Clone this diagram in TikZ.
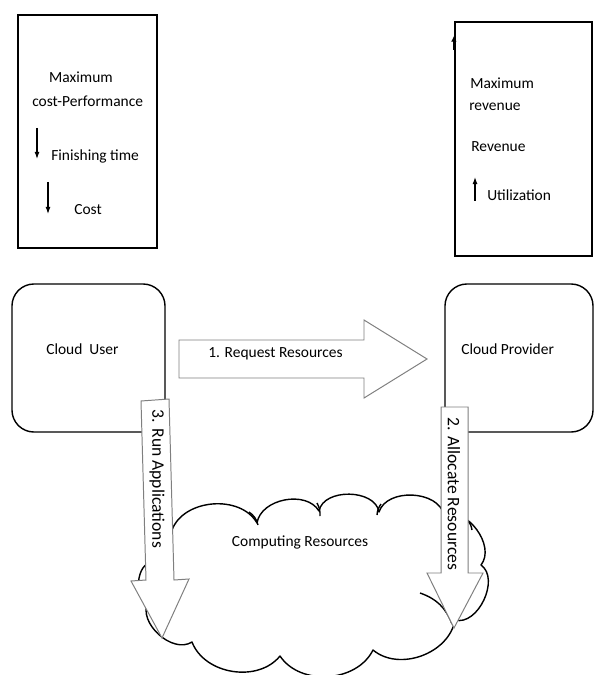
\documentclass[tikz,border=0pt]{standalone}
\usepackage{fontspec}
\setmainfont{Carlito}
\usepackage{xcolor}
\usepackage{tikz}
\usetikzlibrary{arrows.meta}
\definecolor{EdgeGray}{HTML}{7f7f7f}
\tikzset{
  goalbox/.style={draw, line width=1.6pt, inner sep=0pt},
  partybox/.style={draw, line width=1pt, rounded corners=0.55cm, inner sep=0pt},
  lbl/.style={inner sep=0pt, font=\fontsize{11}{13}\selectfont},
  vlbl/.style={inner sep=0pt, rotate=-90, font=\fontsize{12.5}{15}\selectfont},
  trend/.style={line width=0.8pt, -{Latex[length=5pt,width=3.5pt]}},
  blockarrow/.style={draw=EdgeGray, fill=white, line width=0.7pt},
  cloudline/.style={line width=1pt, line join=round}
}

\begin{document}
\begin{tikzpicture}[x=0.025cm, y=-0.025cm]%
\useasboundingbox (0,0) rectangle (595,675);%
% goal boxes
\node[goalbox, minimum width=3.475cm, minimum height=5.825cm] (usergoal) at (87.5,131.5) {};%
\node[goalbox, minimum width=3.425cm, minimum height=5.85cm] (provgoal) at (523.5,139) {};%
\draw[line width=1.2pt, -{Latex[length=4pt,width=4pt]}] (provgoal.south west |- 0,50) -- (provgoal.south west |- 0,36);%
\node[lbl] (umax) at (81,77) {Maximum};%
\node[lbl, anchor=west] (ucp) at (32,101) {cost-Performance};%
\node[lbl, anchor=west] (ufin) at (51,156) {Finishing time};%
\node[lbl, anchor=west] (ucost) at (74,210) {Cost};%
\coordinate (f1) at (37,128); \coordinate (f2) at (37,159);%
\coordinate (c1) at (48,182); \coordinate (c2) at (48,214);%
\draw[trend] (f1) -- (f2);%
\draw[trend] (c1) -- (c2);%
\node[lbl, anchor=west] (pmax) at (470,83) {Maximum};%
\node[lbl, anchor=west] (prev) at (469,107) {revenue};%
\node[lbl, anchor=west] (prevenue) at (471,147) {Revenue};%
\node[lbl, anchor=west] (putil) at (487,195) {Utilization};%
\coordinate (u1) at (475,201); \coordinate (u2) at (475,177);%
\draw[trend] (u1) -- (u2);%
% parties
\node[partybox, minimum width=3.825cm, minimum height=3.7cm] (user) at (88.5,358) {};%
\node[partybox, minimum width=3.7cm, minimum height=3.7cm] (provider) at (519,358) {};%
\node[lbl, anchor=west] (userlbl) at (46,349) {Cloud\ \ User};%
\node[lbl, anchor=west] (provlbl) at (461,349) {Cloud Provider};%
% computing resources cloud
\coordinate (A) at (172,530); \coordinate (B) at (257,523); \coordinate (C) at (319,511);%
\coordinate (D) at (379,512); \coordinate (E) at (444,515); \coordinate (F) at (481,565);%
\coordinate (G) at (455,620); \coordinate (H) at (373,650); \coordinate (I) at (280,656);%
\coordinate (J) at (192,642); \coordinate (K) at (148,602); \coordinate (L) at (152,563);%
\draw[cloudline] (A) to[bend left=65] (B) to[bend left=70] (C) to[bend left=80] (D)
  to[bend left=75] (E) to[bend left=75] (F) to[bend left=80] (G) to[bend left=60] (H)
  to[bend left=60] (I) to[bend left=60] (J) to[bend left=75] (K) to[bend left=90] (L)
  to[bend left=70] (A);%
\draw[cloudline] (249,512) to[bend left=20] (258,525);%
\draw[cloudline] (317,503) to[bend left=15] (320,516);%
\draw[cloudline] (381,504) to[bend right=15] (377,515);%
\draw[cloudline] (420,593) to[bend left=25] (452,624);%
\draw[cloudline] (466,519) to[bend left=20] (472,530);%
\node[lbl] (comp) at (300,542) {Computing Resources};%
% block arrows
\draw[blockarrow] (179,340) -- (364,340) -- (364,320) -- (427,359) -- (364,398) -- (364,378) -- (179,378) -- cycle;%
\node[lbl, anchor=west] (reqlbl) at (208,354) {1. Request Resources};%
\draw[blockarrow] (141,401) -- (169,399) -- (174,580) -- (189,579) -- (162,638) -- (131,581) -- (146,580) -- cycle;%
\node[vlbl] (runlbl) at (157,479) {3. Run Applications};%
\draw[blockarrow] (441,407) -- (468,407) -- (468,573) -- (483,573) -- (454,628) -- (427,573) -- (441,573) -- cycle;%
\node[vlbl] (alloclbl) at (454,494) {2. Allocate Resources};%
\end{tikzpicture}
\end{document}
